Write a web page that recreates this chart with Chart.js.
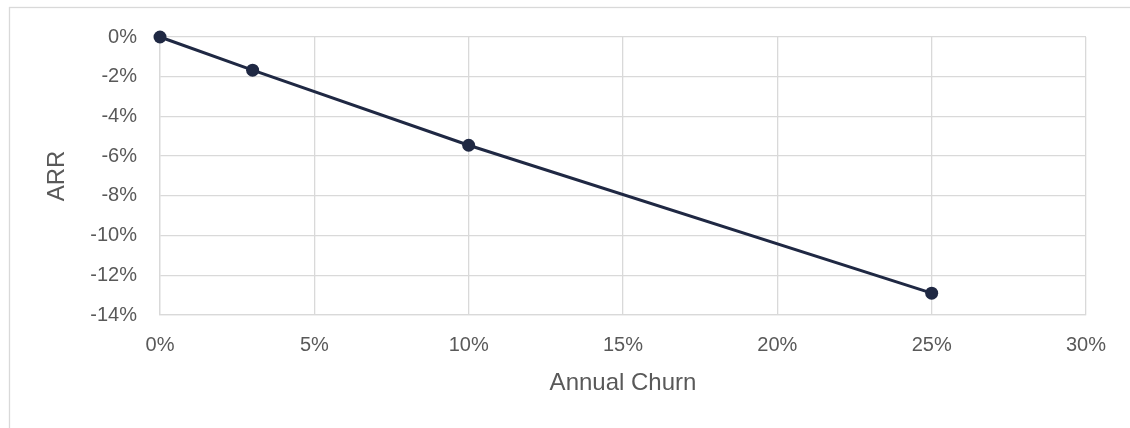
<!DOCTYPE html>
<html>
<head>
<meta charset="utf-8">
<script src="https://cdn.jsdelivr.net/npm/chart.js@4/dist/chart.umd.min.js"></script>
<style>
  html, body { margin: 0; padding: 0; background: #ffffff; }
  #wrap { width: 1130px; height: 428px; position: relative; }
</style>
</head>
<body>
<div id="wrap"><canvas id="chart" width="1130" height="428"></canvas></div>
<script>
// Annual churn rate (%) and the resulting ARR change (%)
const churnPct = [0, 3, 10, 25];
const arrChangePct = [0, -1.67, -5.45, -12.9];

const xTicks = { min: 0, max: 30, step: 5 };
const yTicks = { min: -14, max: 0, step: 2 };

const xTitle = 'Annual Churn';
const yTitle = 'ARR';

const points = churnPct.map((x, i) => ({ x: x, y: arrChangePct[i] }));

const GRID = '#d9d9d9';
const TEXT = '#595959';
const LINE = '#1f2843';
const FONT = "'Liberation Sans', Arial, sans-serif";

// light outline around the whole chart box
const frame = {
  id: 'frame',
  beforeDraw(chart) {
    const ctx = chart.ctx;
    ctx.save();
    ctx.strokeStyle = GRID;
    ctx.lineWidth = 1.3;
    ctx.strokeRect(9.5, 7.5, 1200, 500);
    ctx.restore();
  }
};

new Chart(document.getElementById('chart'), {
  type: 'scatter',
  data: {
    datasets: [{
      data: points,
      showLine: true,
      clip: false,
      borderColor: LINE,
      backgroundColor: LINE,
      borderWidth: 3,
      pointRadius: 6.5,
      pointHoverRadius: 6.5,
      pointBorderWidth: 0,
      tension: 0
    }]
  },
  options: {
    responsive: false,
    animation: false,
    events: [],
    layout: { padding: { left: 10, top: 37, right: 44, bottom: 0 } },
    plugins: { legend: { display: false }, tooltip: { enabled: false } },
    scales: {
      x: {
        type: 'linear',
        min: xTicks.min,
        max: xTicks.max,
        afterFit(s) { s.height = 113; },
        grid: { color: GRID, lineWidth: 1.3, drawTicks: false },
        border: { color: GRID, width: 1.3 },
        ticks: {
          stepSize: xTicks.step,
          padding: 18,
          color: TEXT,
          font: { family: FONT, size: 20 },
          callback: v => v + '%'
        },
        title: {
          display: true,
          text: xTitle,
          color: TEXT,
          font: { family: FONT, size: 24 },
          padding: { top: 0, bottom: 30 }
        }
      },
      y: {
        type: 'linear',
        min: yTicks.min,
        max: yTicks.max,
        afterFit(s) { s.width = 150; },
        grid: { color: GRID, lineWidth: 1.3, drawTicks: false },
        border: { color: GRID, width: 1.3 },
        ticks: {
          stepSize: yTicks.step,
          padding: 23,
          color: TEXT,
          font: { family: FONT, size: 20 },
          callback: v => v + '%'
        },
        title: {
          display: true,
          text: yTitle,
          color: TEXT,
          font: { family: FONT, size: 24 },
          padding: { top: 33, bottom: 0 }
        }
      }
    }
  },
  plugins: [frame]
});
</script>
</body>
</html>
